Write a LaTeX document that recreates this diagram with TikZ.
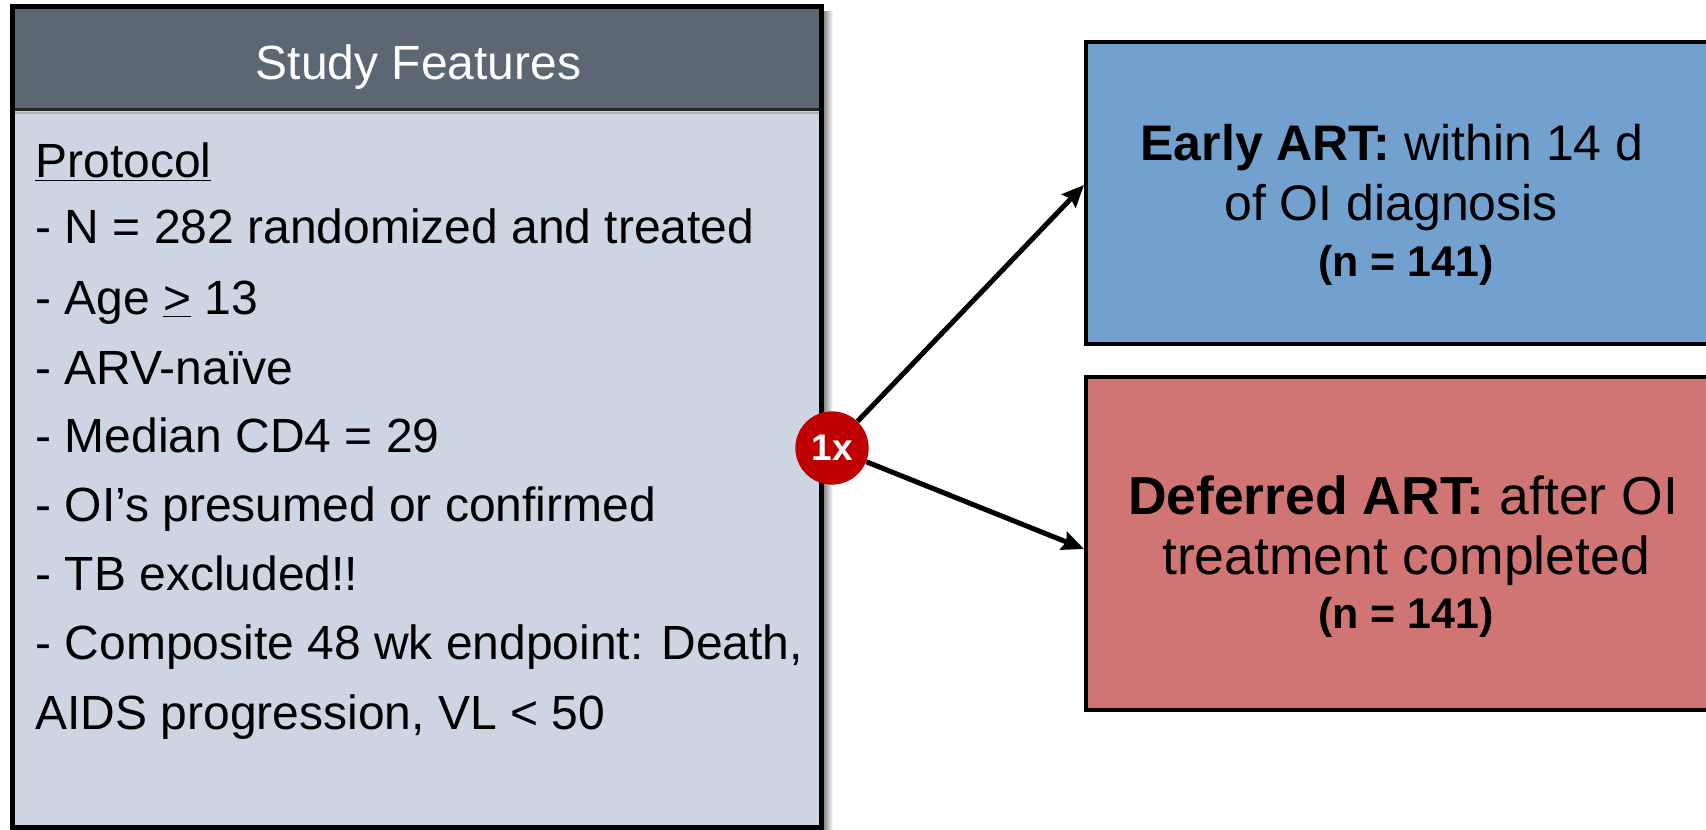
\documentclass[tikz,border=0pt]{standalone}
\usepackage{fontspec}
\setmainfont{Liberation Sans}
\usetikzlibrary{arrows.meta}
\definecolor{hdrfill}{RGB}{91,104,116}
\definecolor{bodyfill}{RGB}{205,213,226}
\definecolor{earlyfill}{RGB}{114,160,207}
\definecolor{deferfill}{RGB}{209,116,116}
\definecolor{circfill}{RGB}{192,0,0}
\tikzset{
  linetxt/.style={font=\fontsize{24}{28}\selectfont, anchor=base west, inner sep=0pt},
  titletxt/.style={font=\fontsize{24}{28}\selectfont, text=white, anchor=base, inner sep=0pt},
  armbox/.style={draw=black, line width=2pt, minimum width=313pt, inner sep=0pt},
  armtxt/.style={font=\fontsize{25}{30}\selectfont, anchor=base, inner sep=0pt},
  armtxtbig/.style={font=\fontsize{26.75}{30}\selectfont, anchor=base, inner sep=0pt},
  ntxt/.style={font=\fontsize{21.5}{24}\selectfont\bfseries, anchor=base, inner sep=0pt},
  randcirc/.style={circle, fill=circfill, minimum size=36.5pt, inner sep=0pt,
    text=white, font=\fontsize{18.5}{22}\selectfont\bfseries},
  conn/.style={line width=2.5pt, -{Stealth[length=11pt, width=9.5pt, inset=1.5pt]}},
}
\begin{document}
\begin{tikzpicture}[x=0.5pt, y=-0.5pt]
\useasboundingbox (0,0) rectangle (1706,829);
% shadow of the panel
\shade[left color=black!55, right color=white] (822,12) rectangle (833,829);
% panel
\node[fill=bodyfill, minimum width=404.5pt, minimum height=410pt, inner sep=0pt] (panel) at (416.5,417) {};
\fill[hdrfill] (12,7) rectangle (821,109);
\draw[line width=1.6pt, black!85] (12,109.5) -- (821,109.5);
\draw[line width=0.8pt, black!30] (12,113) -- (821,113);
\node[draw=black, line width=2.5pt, minimum width=404.5pt, minimum height=410pt, inner sep=0pt] (panelframe) at (416.5,417) {};
\node[titletxt] (title) at (418.5,79.5) {Study Features};
% lines
\node[linetxt] (l1) at (35,177) {\underline{Protocol}};
\node[linetxt] (l2) at (35,243.5) {- N = 282 randomized and treated};
\node[linetxt] (l3) at (35,314) {- Age \underline{>} 13};
\node[linetxt] (l4) at (35,384) {- ARV-naïve};
\node[linetxt] (l5) at (35,452.5) {- Median CD4 = 29};
\node[linetxt] (l6) at (35,521.5) {- OI’s presumed or confirmed};
\node[linetxt] (l7) at (35,590.5) {- TB excluded!!};
\node[linetxt] (l8) at (35,659.5) {- Composite 48 wk endpoint: Death,};
\node[linetxt] (l9) at (35,729.5) {AIDS progression, VL < 50};
% arms
\node[armbox, fill=earlyfill, minimum height=151pt] (early) at (1399,193) {};
\node[armbox, fill=deferfill, minimum height=166.5pt] (defer) at (1399,543.5) {};
\node[armtxt] (e1) at (1392,160) {\textbf{Early ART:} within 14 d};
\node[armtxt] (e2) at (1391,220) {of OI diagnosis};
\node[ntxt] (e3) at (1406,276.5) {(n = 141)};
\node[armtxtbig] (d1) at (1403,514) {\textbf{Deferred ART:} after OI};
\node[armtxtbig] (d2) at (1406,574) {treatment completed};
\node[ntxt] (d3) at (1406,628.5) {(n = 141)};
% randomization
\node[randcirc] (rand) at (832,448) {1x};
\draw[conn] (rand) -- ([yshift=4pt]early.west);
\draw[conn] (rand) -- ([yshift=-2.75pt]defer.west);
\node[randcirc] (rand2) at (832,448) {1x};
\end{tikzpicture}
\end{document}
